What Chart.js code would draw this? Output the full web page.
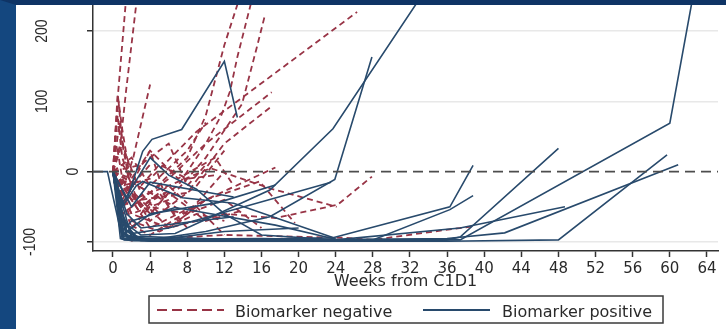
<!DOCTYPE html>
<html lang="en">
<head>
  <meta charset="UTF-8">
  <title>Change from baseline by biomarker status</title>
  <script src="https://cdn.jsdelivr.net/npm/chart.js"></script>
  <style>
    body { margin: 0; background: #ffffff; }
    #frame {
      width: 710px;
      height: 324px;
      border-left: 16px solid #14477f;
      border-top: 5px solid #0f3465;
      background: #ffffff;
    }
    canvas { display: block; }
  </style>
</head>
<body>
  <div id="frame">
    <canvas id="spider" width="710" height="324"></canvas>
  </div>

  <script>
    // Axis ticks
    const xTicks = [0, 4, 8, 12, 16, 20, 24, 28, 32, 36, 40, 44, 48, 52, 56, 60, 64];
    const yTicks = [-100, 0, 100, 200];

    // Biomarker negative patients: weeks from C1D1 and % change
    const negWeeks = [
      [0, 0.54, 1.5],
      [0, 0.8, 1.4, 2.7],
      [0, 1, 2.2, 4],
      [0, 4, 8, 10, 12, 14],
      [0, 3, 7, 10, 11.7, 12.6, 13.4, 15.3],
      [0, 2, 6, 10, 13.9, 15.5, 16.4],
      [0, 1, 4, 9, 26.3],
      [0, 2, 6, 10, 17.1],
      [0, 3, 8, 12, 16.9],
      [0, 2, 6, 10.5, 17, 24.1],
      [0, 2, 6, 12, 17.5, 24.2, 27.9],
      [0, 4, 10, 15.8, 19.6],
      [0, 1, 4, 10, 17.5],
      [0, 1, 2, 4, 12, 24.8, 28, 36.3, 38.6],
      [0, 0.5, 1, 2, 4],
      [0, 0.5, 1, 1.5, 3, 5],
      [0, 0.7, 1.2, 2.5, 4, 6],
      [0, 1, 2, 4, 6, 8],
      [0, 2, 4, 8, 10, 12],
      [0, 1, 3, 5, 7, 10],
      [0, 2, 4, 7, 11, 13],
      [0, 1, 3, 6, 9, 12],
      [0, 0.3, 0.6, 1, 2],
      [0, 1, 2, 4, 6],
      [0, 3, 6, 8, 10],
      [0, 4, 8, 12, 16],
      [0, 2, 4, 8, 10],
      [0, 1, 4, 6, 9, 12],
      [0, 2, 5, 9, 12],
      [0, 0.5, 1, 3, 6, 8],
      [0, 1, 3, 5, 8, 11],
      [0, 4, 6, 10, 14]
    ];
    const negChange = [
      [0, 110, 260],
      [0, 40, 114, 260],
      [0, -30, 21, 124],
      [0, -30, 20, 80, 180, 262],
      [0, -50, -20, 40, 81, 114, 163, 262],
      [0, -60, -40, 20, 96, 177, 224],
      [0, -20, -10, 57, 227],
      [0, -50, -10, 40, 113],
      [0, -40, -30, 40, 91],
      [0, -40, -20, 5, -24, -50],
      [0, -60, -80, -60, -66, -47, -7],
      [0, -80, -40, -14, -73],
      [0, -70, -90, -40, 6],
      [0, -90, -98, -96, -90, -94, -97, -82, -78],
      [0, 80, 20, -20, 10],
      [0, 110, 60, 20, -30, -60],
      [0, 70, 30, -40, -60, -30],
      [0, 40, -30, -70, -50, -80],
      [0, -80, -50, -60, -30, 0],
      [0, -20, -60, -30, -70, -40],
      [0, -10, 30, -10, 20, -20],
      [0, -60, -40, -80, -50, -90],
      [0, 60, 100, 40, 0],
      [0, -90, -97, -97, -95],
      [0, 10, 40, -20, 10],
      [0, -30, -60, -40, -80],
      [0, 20, -20, 30, 70],
      [0, -40, 30, -50, -20, 30],
      [0, -70, -85, -60, -70],
      [0, 30, -10, -50, -20, -45],
      [0, 10, -20, 10, -10, -5],
      [0, -60, -30, -70, -55]
    ];

    // Biomarker positive patients
    const posWeeks = [
      [-2.2, -0.6, 1, 4, 12, 23.7, 36.3, 38.8],
      [0, 1, 3, 6.7, 16.9, 23.7, 33.5],
      [0, 1.5, 4, 10, 16.9, 23.9, 27.9],
      [0, 1, 2, 6, 23.5],
      [0, 1.5, 3.2, 4.2, 7.4, 12, 13.4],
      [0, 1, 2, 8, 24, 37.4, 60, 62.5],
      [0, 1.2, 3, 24, 36, 48, 59.7],
      [0, 1, 3, 12, 24, 36, 42.2, 60.9],
      [0, 1, 2.5, 12, 24, 37.4, 48.7],
      [0, 1.5, 3, 12, 24, 28, 36.3, 38.8],
      [0, 1, 3, 16, 24, 36, 37.4, 48],
      [0, 1, 2.5, 3.2, 7.5, 13, 24],
      [0, 1, 2, 6.7, 17.5, 24, 36],
      [0, 0.8, 2, 8, 24],
      [0, 1, 4, 12],
      [0, 1.2, 8],
      [0, 2, 4, 16, 24, 36],
      [0, 0.5, 1, 4, 12, 20],
      [0, 1.5, 3, 8, 13],
      [0, 2, 4, 13],
      [0, 1, 4, 11.3, 17.5],
      [0, 0.8, 1.5, 6, 16],
      [0, 1, 4, 6, 9, 12, 16, 24]
    ];
    const posChange = [
      [0, 0, -95, -97, -97, -94, -50, 9],
      [0, -70, -90, -88, -26, 61, 255],
      [0, -90, -97, -85, -64, -11, 163],
      [0, -60, -88, -80, -15],
      [0, -40, 29, 46, 60, 157, 77],
      [0, -85, -95, -98, -98, -97, 69, 250],
      [0, -90, -98, -99, -99, -97, 24],
      [0, -80, -95, -97, -97, -95, -87, 10],
      [0, -70, -92, -96, -97, -80, -50],
      [0, -85, -97, -98, -98, -97, -54, -34],
      [0, -88, -97, -98, -99, -97, -93, 33],
      [0, -50, -20, -14, -37, -45, -95],
      [0, -85, -70, -51, -76, -96, -97],
      [0, -95, -98, -99, -98],
      [0, -92, -99, -99],
      [0, -97, -98],
      [0, -93, -96, -95, -97, -96],
      [0, -40, -96, -98, -85, -80],
      [0, -60, -80, -72, -64],
      [0, -50, -15, -36],
      [0, -90, -60, -44, -19],
      [0, -60, -93, -97, -97],
      [0, -45, 20, -5, -25, -60, -90, -97]
    ];

    const xMin = -2.155, xMax = 65.19;
    const yMin = -112.8, yMax = 237;
    const refLevel = 0;

    const negColor = '#983446';
    const posColor = '#284a6c';
    const textColor = '#2a2a2a';
    const axisColor = '#333333';

    function toPoints(weeks, values) {
      return weeks.map((w, i) => ({ x: w, y: values[i] }));
    }

    const datasets = [];
    negWeeks.forEach((w, i) => {
      datasets.push({
        label: i === 0 ? 'Biomarker negative' : '',
        data: toPoints(w, negChange[i]),
        borderColor: negColor,
        borderWidth: 1.8,
        borderDash: [6, 4],
        order: 2
      });
    });
    posWeeks.forEach((w, i) => {
      datasets.push({
        label: i === 0 ? 'Biomarker positive' : '',
        data: toPoints(w, posChange[i]),
        borderColor: posColor,
        borderWidth: 1.6,
        order: 1
      });
    });
    // dashed reference line at 0%
    datasets.push({
      label: '',
      data: [{ x: xMin, y: refLevel }, { x: xMax, y: refLevel }],
      borderColor: '#4d4d4d',
      borderWidth: 1.8,
      borderDash: [10, 6],
      order: 0
    });

    // y labels are drawn rotated (reading upwards), like the original
    const yLabelPlugin = {
      id: 'yLabels',
      afterDraw(chart) {
        const ctx = chart.ctx;
        const y = chart.scales.y;
        ctx.save();
        ctx.fillStyle = textColor;
        ctx.font = '14px "Liberation Sans", Arial, sans-serif';
        ctx.textAlign = 'center';
        ctx.textBaseline = 'middle';
        yTicks.forEach(v => {
          const txt = String(v);
          const cx = txt.length === 1 ? 57 : (txt.length === 4 ? 14.5 : 26.5);
          ctx.save();
          ctx.translate(cx, y.getPixelForValue(v));
          ctx.scale(1.2, 1);
          ctx.rotate(-Math.PI / 2);
          ctx.fillText(txt, 0, 0);
          ctx.restore();
        });
        ctx.restore();
      }
    };

    // boxed legend under the axis title
    const legendPlugin = {
      id: 'boxLegend',
      afterDraw(chart) {
        const ctx = chart.ctx;
        const neg = chart.data.datasets[0];
        const pos = chart.data.datasets[negWeeks.length];
        ctx.save();
        ctx.strokeStyle = '#3a3a3a';
        ctx.lineWidth = 1.5;
        ctx.strokeRect(133, 291, 514, 27);

        ctx.lineWidth = 2;
        ctx.strokeStyle = neg.borderColor;
        ctx.setLineDash([10, 5]);
        ctx.beginPath();
        ctx.moveTo(141, 305);
        ctx.lineTo(208, 305);
        ctx.stroke();

        ctx.strokeStyle = pos.borderColor;
        ctx.setLineDash([]);
        ctx.beginPath();
        ctx.moveTo(407, 305);
        ctx.lineTo(474, 305);
        ctx.stroke();

        ctx.fillStyle = textColor;
        ctx.font = '16px "DejaVu Sans", sans-serif';
        ctx.textBaseline = 'alphabetic';
        ctx.fillText(neg.label, 219, 312);
        ctx.fillText(pos.label, 486, 312);
        ctx.restore();
      }
    };

    new Chart(document.getElementById('spider'), {
      type: 'line',
      data: { datasets },
      options: {
        responsive: false,
        animation: false,
        layout: { padding: { left: 0, right: 8, top: 0, bottom: 34 } },
        elements: { point: { radius: 0 }, line: { tension: 0 } },
        plugins: {
          legend: { display: false },
          tooltip: { enabled: false }
        },
        scales: {
          x: {
            type: 'linear',
            min: xMin,
            max: xMax,
            afterBuildTicks: s => { s.ticks = xTicks.map(v => ({ value: v })); },
            afterFit: s => { s.height = 44; },
            grid: { drawOnChartArea: false, drawTicks: true, tickLength: 6, tickColor: axisColor, tickWidth: 1.5 },
            border: { color: axisColor, width: 1.5 },
            ticks: {
              autoSkip: false,
              maxRotation: 0,
              padding: 3,
              color: textColor,
              font: { family: '"DejaVu Sans", sans-serif', size: 15 }
            },
            title: {
              display: true,
              text: 'Weeks from C1D1',
              color: textColor,
              font: { family: '"DejaVu Sans", sans-serif', size: 16 },
              padding: { top: 0, bottom: 4 }
            }
          },
          y: {
            type: 'linear',
            min: yMin,
            max: yMax,
            afterBuildTicks: s => { s.ticks = yTicks.map(v => ({ value: v })); },
            afterFit: s => { s.width = 77; },
            grid: {
              color: c => (c.tick && c.tick.value === refLevel) ? 'rgba(0,0,0,0)' : '#e8e8e8',
              lineWidth: 1.5,
              tickLength: 6,
              tickColor: axisColor,
              tickWidth: 1.5
            },
            border: { color: axisColor, width: 1.5 },
            ticks: { display: false }
          }
        }
      },
      plugins: [yLabelPlugin, legendPlugin]
    });
  </script>
</body>
</html>
